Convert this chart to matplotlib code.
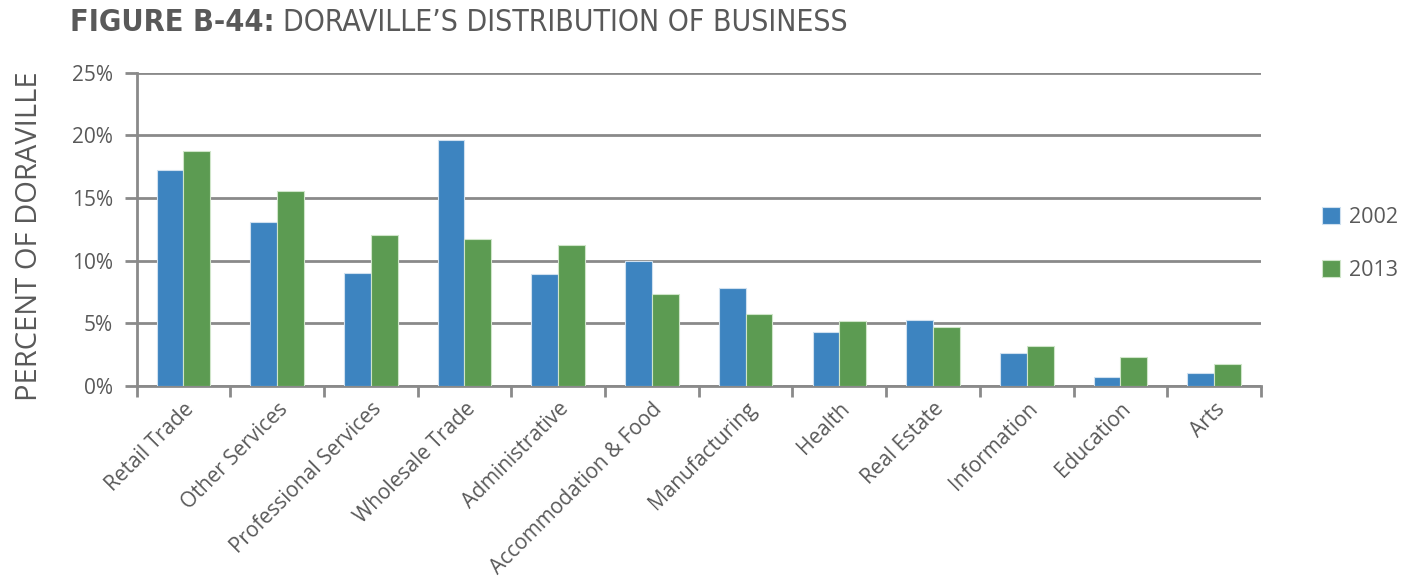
import numpy as np
import matplotlib
matplotlib.use("Agg")
import matplotlib.pyplot as plt
from matplotlib.ticker import FixedLocator, PercentFormatter

categories = [
    "Retail Trade", "Other Services", "Professional Services", "Wholesale Trade",
    "Administrative", "Accommodation & Food", "Manufacturing", "Health",
    "Real Estate", "Information", "Education", "Arts",
]
share_2002 = [17.24, 13.1, 9.05, 19.65, 8.9, 10.0, 7.8, 4.35, 5.27, 2.67, 0.72, 1.01]
share_2013 = [18.78, 15.55, 12.08, 11.71, 11.26, 7.35, 5.78, 5.19, 4.71, 3.19, 2.34, 1.73]
series_labels = ["2002", "2013"]
yticks = [0, 5, 10, 15, 20, 25]

blue = "#3d84c0"
green = "#5c9b52"
grid_gray = "#8a8a8a"
text_gray = "#595959"

plt.rcParams["font.family"] = ["Open Sans", "DejaVu Sans"]

fig = plt.figure(figsize=(14.03, 5.84), dpi=100)
ax = fig.add_axes([0.0973, 0.339, 0.8015, 0.5365])

x = np.arange(len(categories))
w = 0.286
ax.bar(x - w / 2, share_2002, w, color=blue, edgecolor="#cfe0ef", linewidth=0.8,
       label=series_labels[0], zorder=3)
ax.bar(x + w / 2, share_2013, w, color=green, edgecolor="#cfe5c9", linewidth=0.8,
       label=series_labels[1], zorder=3)

ax.set_xlim(-0.5, len(categories) - 0.5)
ax.set_ylim(0, 25)
ax.set_yticks(yticks)
ax.yaxis.set_major_formatter(PercentFormatter(decimals=0))
ax.yaxis.grid(True, color=grid_gray, linewidth=2, zorder=0)
ax.tick_params(axis="y", length=9, width=2, color=grid_gray, labelsize=15,
               labelcolor=text_gray, pad=8)

ax.set_xticks(x)
ax.set_xticklabels(categories, rotation=45, ha="right", rotation_mode="anchor",
                   fontsize=15, color=text_gray)
ax.tick_params(axis="x", which="major", length=0, pad=9)
ax.xaxis.set_minor_locator(FixedLocator(np.arange(-0.5, len(categories), 1.0)))
ax.tick_params(axis="x", which="minor", length=8, width=2, color=grid_gray)

for side in ["top", "right"]:
    ax.spines[side].set_visible(False)
for side in ["left", "bottom"]:
    ax.spines[side].set_color(grid_gray)
    ax.spines[side].set_linewidth(2)

fig.text(30 / 1403, 0.596, "PERCENT OF DORAVILLE", rotation=90, fontsize=21,
         color=text_gray, ha="center", va="center")

leg = ax.legend(loc="center left", bbox_to_anchor=(0.9285, 0.582),
                bbox_transform=fig.transFigure, frameon=False,
                fontsize=15.5, handlelength=0.84, handleheight=0.84,
                labelspacing=1.5, handletextpad=0.4)
for t in leg.get_texts():
    t.set_color(text_gray)

fig.text(70 / 1403, 0.962, "FIGURE B-44:", fontsize=22, fontweight="bold",
         fontstretch="condensed", color=text_gray, va="center",
         family=["DejaVu Sans"])
fig.text(283 / 1403, 0.962, "DORAVILLE\u2019S DISTRIBUTION OF BUSINESS", fontsize=21.6,
         fontstretch="condensed", color=text_gray, va="center",
         family=["DejaVu Sans"])

fig.savefig("out.png", dpi=100)
